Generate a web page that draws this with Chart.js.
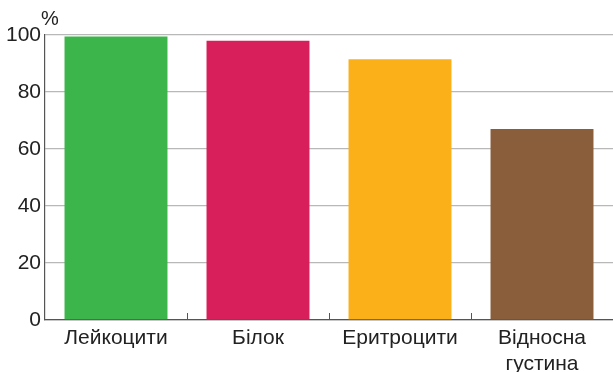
<!DOCTYPE html>
<html>
<head>
<meta charset="utf-8">
<script src="https://cdn.jsdelivr.net/npm/chart.js@4"></script>
<style>
  html, body { margin: 0; padding: 0; background: #fff; overflow: hidden; }
  #wrap { width: 613px; height: 372px; }
</style>
</head>
<body>
<div id="wrap"><canvas id="c" width="613" height="372"></canvas></div>
<script>
// Categories and values (%)
const categories = [['Лейкоцити'], ['Білок'], ['Еритроцити'], ['Відносна', 'густина']];
const values = [99.5, 98, 91.5, 67];
const barColors = ['#3cb54a', '#d81e5b', '#fbb01a', '#8a5e3b'];
const yTicks = [0, 20, 40, 60, 80, 100];
const unitLabel = '%';

const FONT = '"Liberation Sans", Arial, Helvetica, sans-serif';

// Small upward ticks between categories on the x axis, and the unit label above the y axis
const decor = {
  id: 'decor',
  afterDraw(chart) {
    const ctx = chart.ctx;
    const x = chart.scales.x, y = chart.scales.y;
    ctx.save();
    ctx.strokeStyle = '#555';
    ctx.lineWidth = 1;
    for (let i = 0; i < values.length - 1; i++) {
      const px = Math.round((x.getPixelForValue(i) + x.getPixelForValue(i + 1)) / 2) + 0.5;
      ctx.beginPath();
      ctx.moveTo(px, y.bottom);
      ctx.lineTo(px, y.bottom - 7);
      ctx.stroke();
    }
    ctx.fillStyle = '#222';
    ctx.font = '20px ' + FONT;
    ctx.textAlign = 'left';
    ctx.textBaseline = 'alphabetic';
    ctx.fillText(unitLabel, y.right - 4, y.top - 10);
    ctx.restore();
  }
};

new Chart(document.getElementById('c'), {
  type: 'bar',
  data: {
    labels: categories,
    datasets: [{
      data: values,
      backgroundColor: barColors,
      borderWidth: 0,
      categoryPercentage: 1,
      barPercentage: 0.725
    }]
  },
  options: {
    responsive: false,
    animation: false,
    events: [],
    layout: { padding: { top: 35, right: 0, left: 0, bottom: 0 } },
    plugins: { legend: { display: false }, tooltip: { enabled: false } },
    scales: {
      x: {
        grid: { display: false, drawTicks: false },
        border: { display: true, color: '#555', width: 1.2 },
        ticks: { color: '#222', font: { family: FONT, size: 21 }, padding: 6, maxRotation: 0, autoSkip: false },
        afterFit: s => { s.height = 52; }
      },
      y: {
        min: 0, max: 100,
        afterBuildTicks: s => { s.ticks = yTicks.map(v => ({ value: v })); },
        grid: { color: '#b8b8b8', lineWidth: 1.3, drawTicks: false },
        border: { display: true, color: '#555', width: 1.2 },
        ticks: { color: '#222', font: { family: FONT, size: 21 }, padding: 4 },
        afterFit: s => { s.width = 45; }
      }
    }
  },
  plugins: [decor]
});
</script>
</body>
</html>
